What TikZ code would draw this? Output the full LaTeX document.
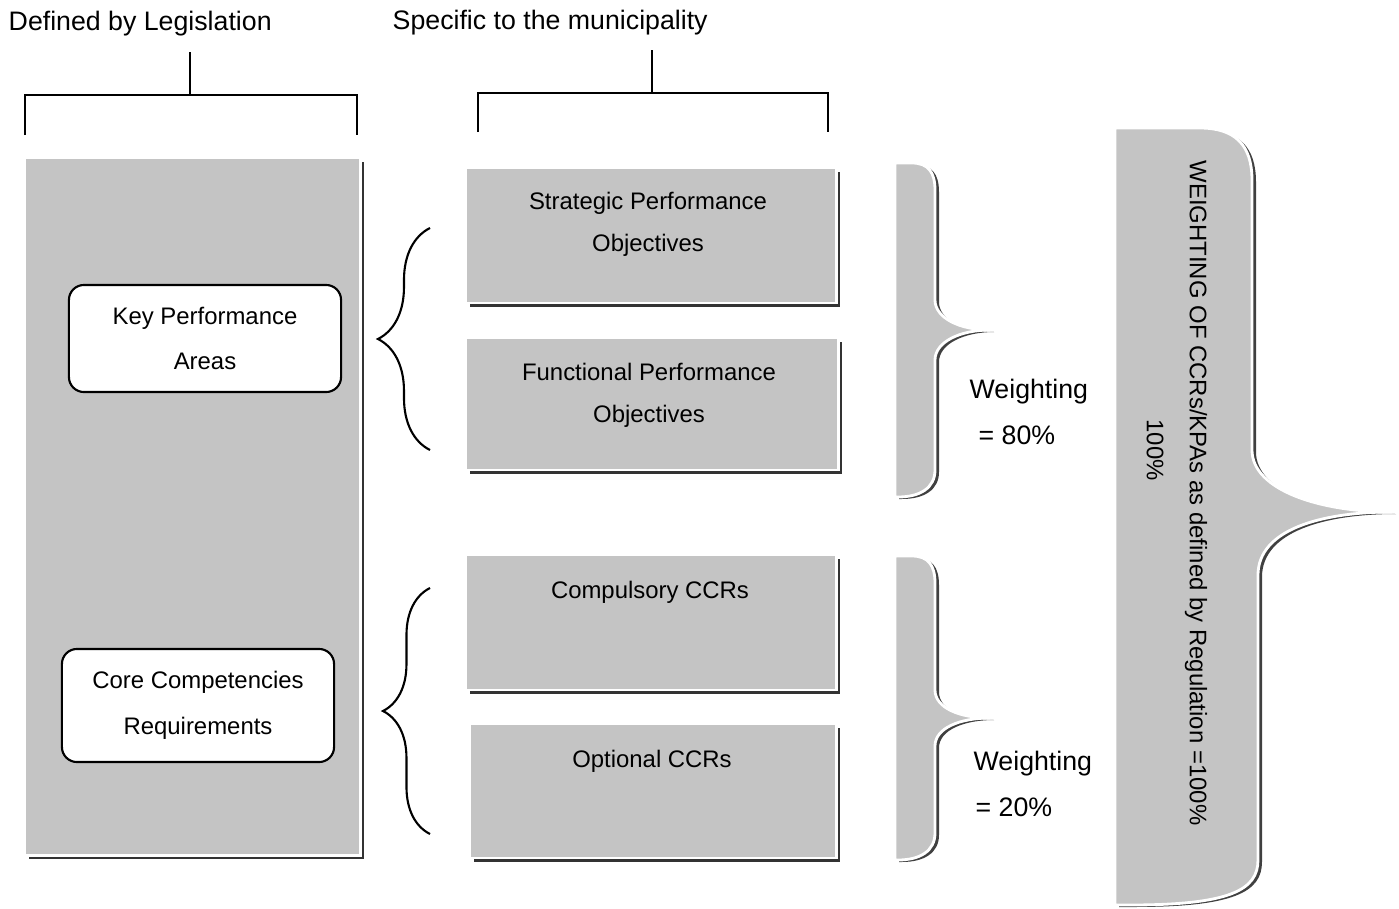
\documentclass[tikz,border=0pt]{standalone}
\usepackage{fontspec}
\setmainfont{Liberation Sans}
\usepackage{xcolor}
\usetikzlibrary{positioning,shadows,decorations.pathreplacing}
\definecolor{panelgray}{gray}{0.77}
\newcommand{\boxfont}{\fontsize{6.8}{12}\selectfont}
\newcommand{\labfont}{\fontsize{7.6}{9}\selectfont}

\begin{document}
\begin{tikzpicture}[
    x=0.01cm, y=-0.01cm,
    panel/.style={rectangle, draw=white, line width=0.8pt, fill=panelgray, inner sep=0pt, drop shadow={shadow xshift=0.04cm, shadow yshift=-0.04cm, fill=black!80, opacity=1}},
    gbrace/.style={draw=white, line width=0.8pt, fill=panelgray, drop shadow={shadow xshift=0.04cm, shadow yshift=-0.02cm, fill=black!75, opacity=1}},
    kbox/.style={rectangle, draw, rounded corners=0.15cm, fill=white, line width=0.6pt, minimum width=2.72cm, align=center, font=\boxfont},
    boxtext/.style={align=center, font=\boxfont, inner sep=0pt},
    lab/.style={font=\labfont, inner sep=0pt},
    bracket/.style={line width=0.5pt},
    tbrace/.style={decorate, decoration={brace, amplitude=#1}, line width=0.6pt}
]
\useasboundingbox (0,0) rectangle (1399,909);

% headings and brackets
\node[lab, anchor=base west] (legis) at (8,31) {Defined by Legislation};
\node[lab, anchor=base west] (munic) at (392,29) {Specific to the municipality};
\draw[bracket] (190,52) -- (190,95);
\draw[bracket] (25,135) |- (357,95) -- (357,135);
\draw[bracket] (652,50) -- (652,93);
\draw[bracket] (478,132) |- (828,93) -- (828,132);

% left column
\node[panel, minimum width=3.35cm, minimum height=6.97cm] (legal) at (192.5,506.5) {};
\node[kbox, minimum height=1.07cm] (kpa) at (205,338.5) {Key Performance\\[1pt]Areas};
\node[kbox, minimum height=1.13cm] (ccr) at (198,705.5) {Core Competencies\\[1pt]Requirements};

% middle column
\node[panel, minimum width=3.70cm, minimum height=1.35cm] (spo) at (651,235.5) {};
\node[boxtext] (spotext) at (648,224) {Strategic Performance\\Objectives};
\node[panel, minimum width=3.72cm, minimum height=1.32cm] (fpo) at (652,404) {};
\node[boxtext] (fpotext) at (649,395) {Functional Performance\\Objectives};
\node[panel, minimum width=3.70cm, minimum height=1.35cm] (comp) at (651,622.5) {};
\node[boxtext] (comptext) at (650,592) {Compulsory CCRs};
\node[panel, minimum width=3.66cm, minimum height=1.34cm] (opt) at (653,791) {};
\node[boxtext] (opttext) at (652,761) {Optional CCRs};

\draw[tbrace=0.52cm] (430,450) -- (430,228);
\draw[tbrace=0.47cm] (430,834) -- (430,588);

% weighting braces
\path[gbrace] (895,163) -- (912,163) .. controls (928,163) and (935,172) .. (935,190)
    -- (935,300) .. controls (935,318) and (960,330) .. (990,330)
    .. controls (960,330) and (935,342) .. (935,360)
    -- (935,470) .. controls (935,488) and (920,497) .. (898,497) -- (895,497) -- cycle;
\path[gbrace] (895,556) -- (912,556) .. controls (928,556) and (935,565) .. (935,583)
    -- (935,690) .. controls (935,708) and (960,718) .. (990,718)
    .. controls (960,718) and (935,728) .. (935,746)
    -- (935,833) .. controls (935,851) and (920,860) .. (898,860) -- (895,860) -- cycle;
\node[lab, anchor=base west] (w80) at (969,398) {Weighting};
\node[lab, anchor=base west] (p80) at (978,444) {= 80\%};
\node[lab, anchor=base west] (w20) at (973,770) {Weighting};
\node[lab, anchor=base west] (p20) at (975,816) {= 20\%};

% total brace
\path[gbrace] (1115,128) -- (1200,128) .. controls (1235,128) and (1252,145) .. (1252,180)
    -- (1252,450) .. controls (1252,490) and (1320,512) .. (1392,512)
    .. controls (1320,512) and (1258,530) .. (1258,575)
    -- (1258,860) .. controls (1258,890) and (1230,905) .. (1130,905) -- (1115,905) -- cycle;
\node[boxtext, rotate=-90] (wtotal) at (1196,493) {WEIGHTING OF CCRs/KPAs as defined by Regulation =100\%};
\node[boxtext, rotate=-90] (wpct) at (1155,450) {100\%};
\end{tikzpicture}
\end{document}
